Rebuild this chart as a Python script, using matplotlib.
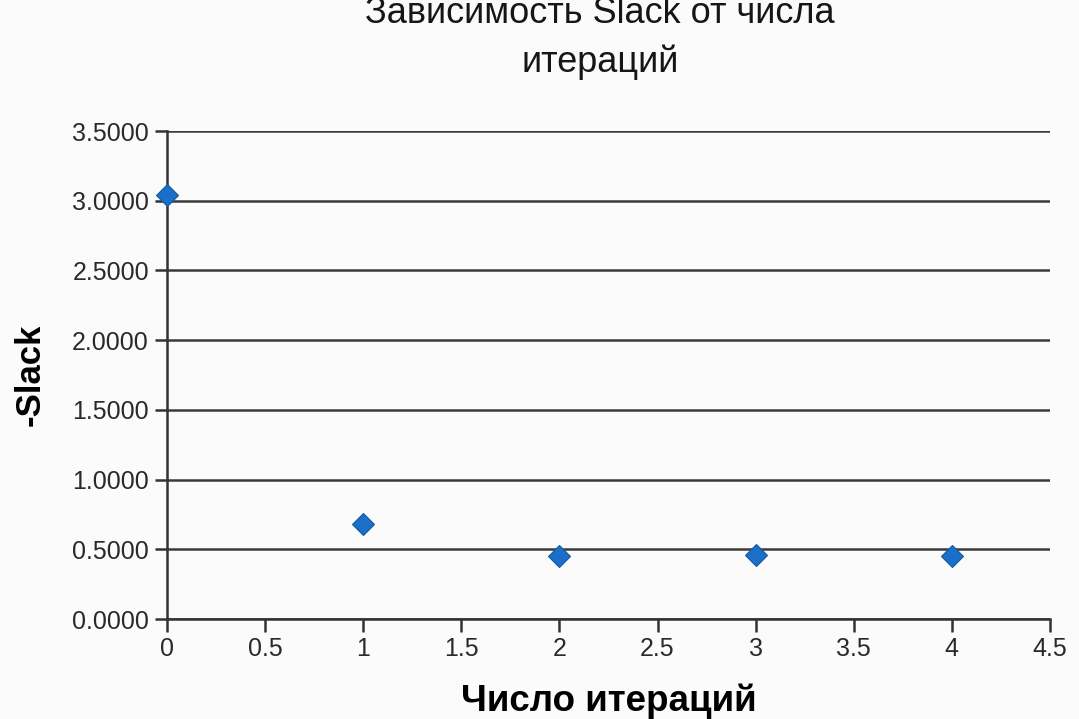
import matplotlib.pyplot as plt

# данные: число итераций и значение -Slack
iterations = [0, 1, 2, 3, 4]
neg_slack = [3.04, 0.68, 0.45, 0.46, 0.45]

x_ticks = [0, 0.5, 1, 1.5, 2, 2.5, 3, 3.5, 4, 4.5]
x_tick_labels = ["0", "0.5", "1", "1.5", "2", "2.5", "3", "3.5", "4", "4.5"]
y_ticks = [0, 0.5, 1.0, 1.5, 2.0, 2.5, 3.0, 3.5]

plt.rcParams['font.family'] = ['Liberation Sans', 'DejaVu Sans']

fig = plt.figure(figsize=(10.79, 7.19), dpi=100)
fig.patch.set_facecolor('#fbfbfb')
ax = fig.add_axes([0.1548, 0.139, 0.9731 - 0.1548, 0.8178 - 0.139])
ax.set_facecolor('#fbfbfb')

ax.set_xlim(0, 4.5)
ax.set_ylim(0, 3.5)
ax.set_xticks(x_ticks)
ax.set_xticklabels(x_tick_labels)
ax.set_yticks(y_ticks)
ax.set_yticklabels([f"{v:.4f}" for v in y_ticks])

ax.grid(axis='y', color='#3a3a3a', linewidth=1.8)
ax.set_axisbelow(True)
for s in ['top', 'right']:
    ax.spines[s].set_visible(False)
for s in ['left', 'bottom']:
    ax.spines[s].set_color('#333333')
    ax.spines[s].set_linewidth(1.8)
ax.tick_params(axis='both', direction='out', length=9, width=1.8, color='#333333',
               labelsize=18, labelcolor='#2a2a2a', pad=4)

ax.plot(iterations, neg_slack, linestyle='none', marker='D', markersize=11,
        color='#1b6fc8', markeredgecolor='#155a9e', markeredgewidth=0.8,
        clip_on=False, zorder=5)

ax.set_xlabel("Число итераций", fontsize=26.5, fontweight='bold', labelpad=16)
ax.set_ylabel("-Slack", fontsize=25, fontweight='bold', labelpad=18)

fig.text(0.556, 1 - 80 / 719, "Зависимость Slack от числа\nитераций", ha='center',
         va='bottom', fontsize=26, color='#161616', linespacing=1.5)

fig.savefig("out.png", dpi=100, facecolor=fig.get_facecolor())
